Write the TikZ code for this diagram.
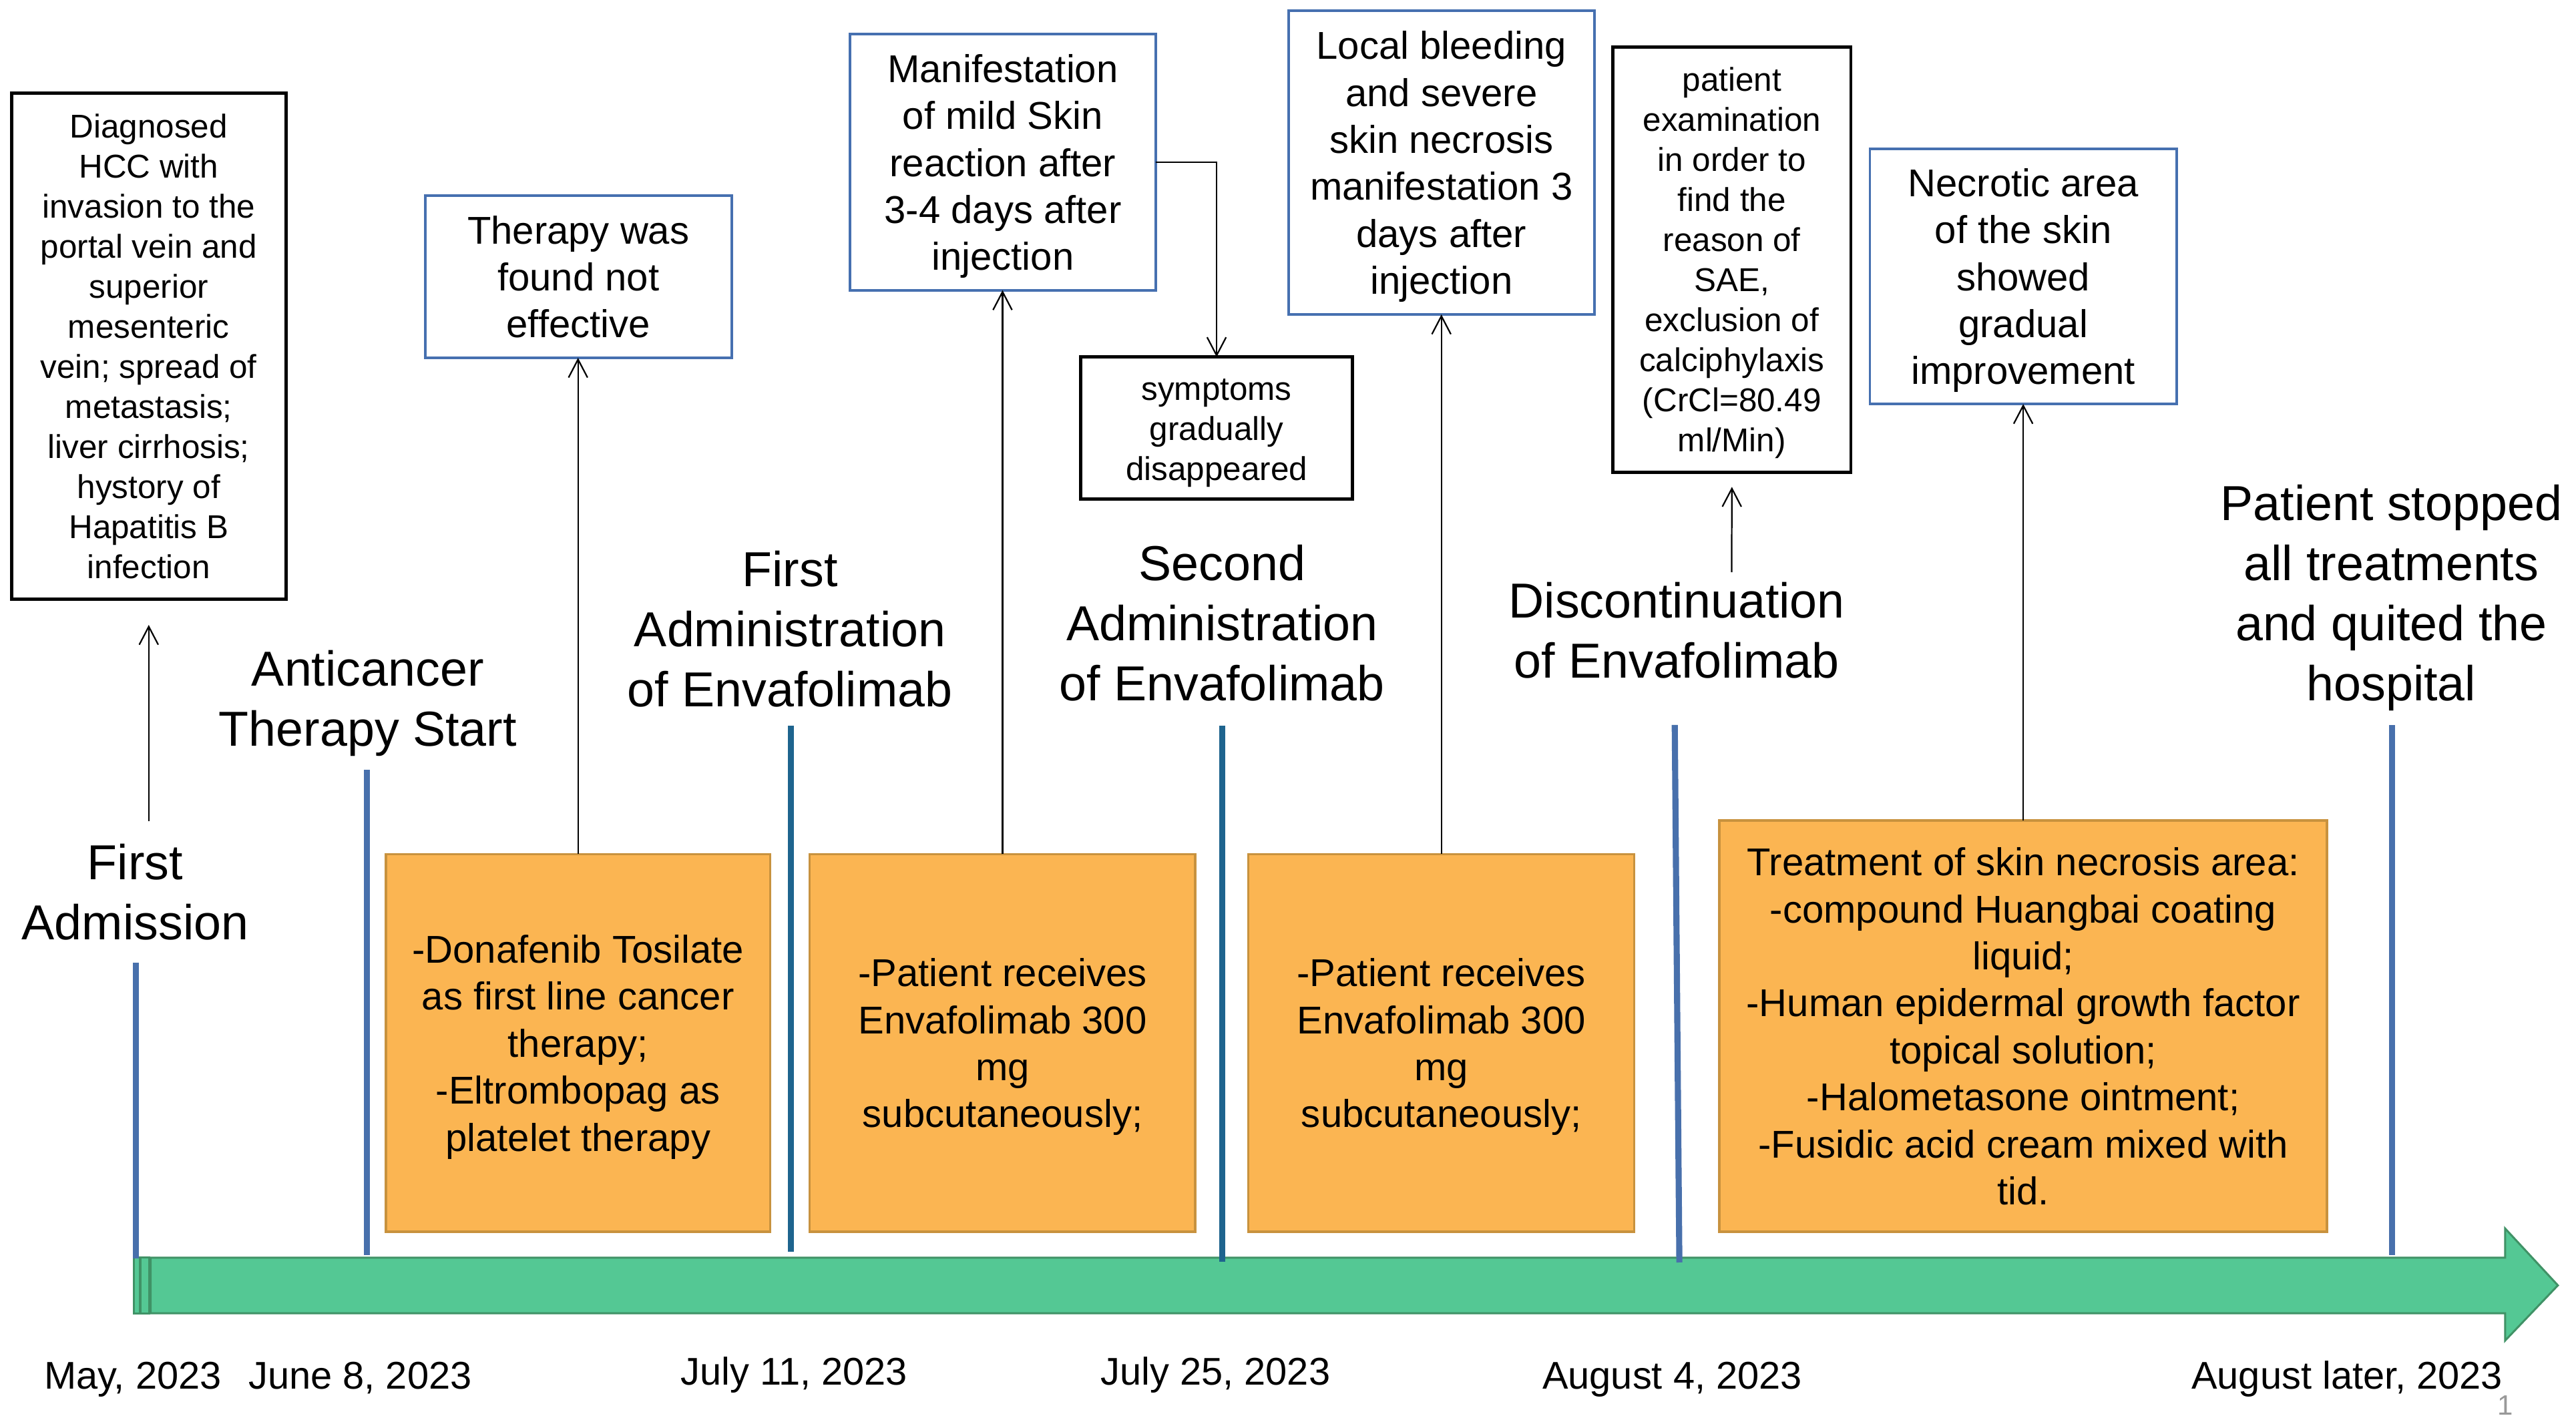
\documentclass[tikz,border=0pt]{standalone}
\usepackage{fontspec}
\setmainfont{Liberation Sans}
\usetikzlibrary{arrows.meta,calc}
\definecolor{lineblue}{RGB}{72,112,172}
\definecolor{lineteal}{RGB}{30,100,142}
\definecolor{boxblue}{RGB}{70,112,176}
\definecolor{orfill}{RGB}{251,181,82}
\definecolor{ordraw}{RGB}{200,146,62}
\definecolor{grfill}{RGB}{84,200,148}
\definecolor{grdraw}{RGB}{64,146,102}
\newcommand{\bxs}{\rule[-0.2\baselineskip]{0pt}{\baselineskip}}
\begin{document}
\begin{tikzpicture}[x=1pt,y=-1pt,
  bigtxt/.style={font=\fontsize{29.8}{36.4}\selectfont, align=center, inner sep=0pt},
  midf/.style={font=\fontsize{23.5}{28.5}\selectfont},
  smallf/.style={font=\fontsize{20}{24.3}\selectfont},
  datetxt/.style={font=\fontsize{23.4}{28}\selectfont, inner sep=0pt, anchor=base},
  boxsize/.style 2 args={minimum width=#1pt, minimum height=#2pt},
  blackbox/.style={draw=black, line width=2pt, smallf, align=center, inner sep=0pt, outer sep=0pt},
  bluebox/.style={draw=boxblue, line width=1.5pt, midf, align=center, inner sep=0pt, outer sep=0pt},
  orbox/.style={draw=ordraw, fill=orfill, line width=1.4pt, midf, align=center, inner sep=0pt, outer sep=0pt},
  evblue/.style={draw=lineblue, line width=3.7pt},
  evteal/.style={draw=lineteal, line width=3.7pt},
  greenbar/.style={fill=grfill, draw=grdraw, line width=1.2pt},
  conn/.style={draw=black, line width=0.9pt, -{Straight Barb[length=11pt,width=11.5pt]}},
]
\fill[white] (0,0) rectangle (1562,862);
\useasboundingbox (0,0) rectangle (1562,862);

% green time arrow
\filldraw[greenbar] (81,762.7) rectangle (84.7,796.4);
\filldraw[greenbar] (85.4,762.7) rectangle (90.6,796.4);
\filldraw[greenbar] (91.4,762.7) -- (1519,762.7) -- (1519,745) -- (1551,779.5)
  -- (1519,813) -- (1519,796.4) -- (91.4,796.4) -- cycle;

% event lines
\draw[evblue] (82.4,584) -- (82.4,763);
\draw[evblue] (222.6,467) -- (222.6,761);
\draw[evteal] (479.4,440) -- (479.4,759);
\draw[evteal] (741,440) -- (741,765);
\draw[evblue] (1015.5,439.6) -- (1018.3,765.6);
\draw[evblue] (1450.3,439.7) -- (1450.3,761);

% event labels
\node[bigtxt] (lab0) at (82,544.5) {\strut First\\Admission\strut};
\node[bigtxt] (lab1) at (223,426.9) {\strut Anticancer\\Therapy Start\strut};
\node[bigtxt] (lab2) at (479,384.7) {\strut First\\Administration\\of Envafolimab\strut};
\node[bigtxt] (lab3) at (741,381.1) {\strut Second\\Administration\\of Envafolimab\strut};
\node[bigtxt] (lab4) at (1016.7,385.5) {\strut Discontinuation\\of Envafolimab\strut};
\node[bigtxt] (lab5) at (1450,363.1) {\strut Patient stopped\\all treatments\\and quited the\\hospital\strut};

% dates
\node[datetxt] (d0) at (80.5,842.5) {May, 2023};
\node[datetxt] (d1) at (218.4,842.5) {June 8, 2023};
\node[datetxt] (d2) at (481.5,839.8) {July 11, 2023};
\node[datetxt] (d3) at (737,839.8) {July 25, 2023};
\node[datetxt] (d4) at (1014,842.5) {August 4, 2023};
\node[datetxt] (d5) at (1423.2,842.5) {August later, 2023};
\node[font=\fontsize{17}{20}\selectfont, text=black!40, anchor=base, inner sep=0pt] (pg) at (1519,858) {1};

% orange boxes
\node[orbox, boxsize={233}{229}] (ob1) at (350.5,632.5)
  {\bxs -Donafenib Tosilate\\as first line cancer\\therapy;\\-Eltrombopag as\\platelet therapy\bxs};
\node[orbox, boxsize={233.8}{229}] (ob2) at (607.9,632.5)
  {\bxs -Patient receives\\Envafolimab 300\\mg\\subcutaneously;\bxs};
\node[orbox, boxsize={234}{229}] (ob3) at (874,632.5)
  {\bxs -Patient receives\\Envafolimab 300\\mg\\subcutaneously;\bxs};
\node[orbox, boxsize={368.4}{249.4}] (ob4) at (1226.8,622.3)
  {\bxs Treatment of skin necrosis area:\\-compound Huangbai coating\\liquid;\\-Human epidermal growth factor\\topical solution;\\-Halometasone ointment;\\-Fusidic acid cream mixed with\\tid.\bxs};

% upper boxes
\node[blackbox, boxsize={166.6}{306.7}] (diag) at (90.2,209.85)
  {\bxs Diagnosed\\HCC with\\invasion to the\\portal vein and\\superior\\mesenteric\\vein; spread of\\metastasis;\\liver cirrhosis;\\hystory of\\Hapatitis B\\infection\bxs};
\node[bluebox, boxsize={185.8}{98.5}] (noteff) at (350.7,167.75)
  {\bxs Therapy was\\found not\\effective\bxs};
\node[bluebox, boxsize={185.2}{155.3}] (manif) at (608.1,98.35)
  {\bxs Manifestation\\of mild Skin\\reaction after\\3-4 days after\\injection\bxs};
\node[blackbox, boxsize={164.6}{86.1}] (sympt) at (737.7,259.55)
  {\bxs symptoms\\gradually\\disappeared\bxs};
\node[bluebox, boxsize={185.5}{184.1}] (bleed) at (874.05,98.65)
  {\bxs Local bleeding\\and severe\\skin necrosis\\manifestation 3\\days after\\injection\bxs};
\node[blackbox, boxsize={144.3}{257.9}] (exam) at (1050.15,157.35)
  {\bxs patient\\examination\\in order to\\find the\\reason of\\SAE,\\exclusion of\\calciphylaxis\\(CrCl=80.49\\ml/Min)\bxs};
\node[bluebox, boxsize={185.9}{154.7}] (necro) at (1226.8,167.65)
  {\bxs Necrotic area\\of the skin\\showed\\gradual\\improvement\bxs};

% connectors
\coordinate (a0s) at (90.2,498);
\draw[conn] (a0s) -- ($(diag.south)+(0,15.8)$);
\draw[conn] (ob1.north) -- (ob1.north |- noteff.south);
\draw[conn] (ob2.north) -- (ob2.north |- manif.south);
\draw[conn] (manif.east) -| (sympt.north);
\draw[conn] (ob3.north) -- (ob3.north |- bleed.south);
\coordinate (a5s) at (1050,347);
\draw[conn] (a5s) -- ($(exam.south)+(0,9)$);
\draw[conn] (ob4.north) -- (ob4.north |- necro.south);
\end{tikzpicture}
\end{document}
